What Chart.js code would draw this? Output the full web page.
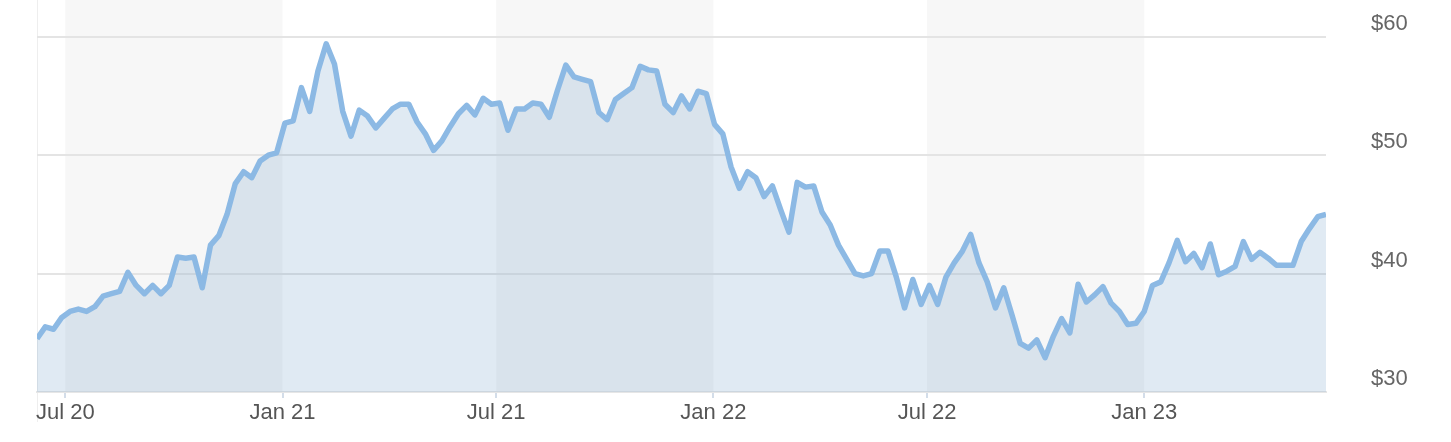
<!DOCTYPE html>
<html>
<head>
<meta charset="utf-8">
<script src="https://cdn.jsdelivr.net/npm/chart.js@4.4.1/dist/chart.umd.min.js"></script>
<style>
  html, body { margin: 0; padding: 0; background: #ffffff; }
  #wrap { position: relative; width: 1451px; height: 442px; }
</style>
</head>
<body>
<div id="wrap"><canvas id="c"></canvas></div>
<script>
// ---- data ----
const startDate = '2020-06-07';   // first weekly observation
const stepDays = 7;               // weekly series
const prices = [
  34.5, 35.5, 35.3, 36.3, 36.8, 37.0, 36.8, 37.2, 38.1, 38.3,
  38.5, 40.1, 39.0, 38.3, 39.0, 38.3, 39.0, 41.4, 41.3, 41.4,
  38.8, 42.4, 43.2, 45.0, 47.6, 48.6, 48.1, 49.5, 50.0, 50.2,
  52.7, 52.9, 55.7, 53.7, 57.1, 59.4, 57.7, 53.7, 51.6, 53.8,
  53.3, 52.3, 53.1, 53.9, 54.3, 54.3, 52.8, 51.8, 50.4, 51.2,
  52.4, 53.5, 54.2, 53.4, 54.8, 54.3, 54.4, 52.1, 53.9, 53.9,
  54.4, 54.3, 53.2, 55.5, 57.6, 56.6, 56.4, 56.2, 53.6, 53.0,
  54.7, 55.2, 55.7, 57.5, 57.2, 57.1, 54.3, 53.6, 55.0, 53.9,
  55.4, 55.2, 52.6, 51.8, 49.0, 47.2, 48.6, 48.1, 46.5, 47.4,
  45.4, 43.5, 47.7, 47.3, 47.4, 45.2, 44.1, 42.4, 41.2, 40.0,
  39.8, 40.0, 41.9, 41.9, 39.7, 37.1, 39.5, 37.4, 39.0, 37.4,
  39.7, 40.9, 41.9, 43.3, 40.9, 39.3, 37.1, 38.8, 36.5, 34.1,
  33.7, 34.4, 32.9, 34.7, 36.2, 35.0, 39.1, 37.6, 38.2, 38.9,
  37.5, 36.8, 35.7, 35.8, 36.8, 39.0, 39.3, 40.9, 42.8, 41.0,
  41.7, 40.5, 42.5, 39.9, 40.2, 40.6, 42.7, 41.2, 41.8, 41.3,
  40.7, 40.7, 40.7, 42.7, 43.8, 44.8, 45.0
];
const xTickDates  = ['2020-07-01', '2021-01-01', '2021-07-01', '2022-01-01', '2022-07-01', '2023-01-01'];
const xTickLabels = ['Jul 20', 'Jan 21', 'Jul 21', 'Jan 22', 'Jul 22', 'Jan 23'];
const bandStartDates = ['2020-07-01', '2021-07-01', '2022-07-01'];
const bandEndDates   = ['2021-01-01', '2022-01-01', '2023-01-01'];
const yTicks = [30, 40, 50, 60];
const yTickLabels = ['$30', '$40', '$50', '$60'];

// ---- helpers ----
const DAY = 86400000;
const t0 = Date.parse(startDate + 'T00:00:00Z');
const dayOf = d => (Date.parse(d + 'T00:00:00Z') - t0) / DAY;
const points = prices.map((v, i) => ({ x: i * stepDays, y: v }));
const xTickDays = xTickDates.map(dayOf);
const bands = bandStartDates.map((s, i) => [dayOf(s), dayOf(bandEndDates[i])]);
const FONT = "'Liberation Sans', Arial, sans-serif";

const bandPlugin = {
  id: 'bands',
  beforeDraw(chart) {
    const { ctx, chartArea, scales } = chart;
    const x = scales.x;
    ctx.save();
    ctx.fillStyle = '#f7f7f7';
    bands.forEach(([a, b]) => {
      const xa = x.getPixelForValue(a), xb = x.getPixelForValue(b);
      ctx.fillRect(xa, 0, xb - xa, chartArea.bottom);
    });
    // faint left rule
    ctx.strokeStyle = '#eeeeee';
    ctx.lineWidth = 1;
    ctx.beginPath();
    ctx.moveTo(chartArea.left + 0.5, 0);
    ctx.lineTo(chartArea.left + 0.5, 422);
    ctx.stroke();
    ctx.restore();
  }
};

new Chart(document.getElementById('c'), {
  type: 'line',
  data: {
    datasets: [{
      data: points,
      borderColor: '#8cb9e4',
      borderWidth: 5.5,
      borderJoinStyle: 'round',
      backgroundColor: 'rgba(100,150,195,0.2)',
      fill: 'start',
      pointRadius: 0,
      tension: 0
    }]
  },
  options: {
    responsive: true,
    maintainAspectRatio: false,
    animation: false,
    layout: { padding: { left: 37, top: 0, right: 0, bottom: 0 } },
    plugins: { legend: { display: false }, tooltip: { enabled: false } },
    scales: {
      x: {
        type: 'linear',
        min: 0,
        max: (prices.length - 1) * stepDays,
        afterBuildTicks(scale) { scale.ticks = xTickDays.map(v => ({ value: v })); },
        afterFit(scale) { scale.height = 50; scale.paddingLeft = 0; scale.paddingRight = 0; },
        grid: { drawOnChartArea: false, drawTicks: true, tickLength: 6, tickColor: '#d3dde9', lineWidth: 2 },
        border: { display: true, color: '#e6e6e6', width: 2 },
        ticks: {
          autoSkip: false,
          maxRotation: 0,
          padding: 2,
          color: '#555555',
          font: { family: FONT, size: 22 },
          callback(v) { const i = xTickDays.indexOf(v); return i >= 0 ? xTickLabels[i] : ''; }
        }
      },
      y: {
        position: 'right',
        min: 30,
        max: 63.1,
        afterBuildTicks(scale) { scale.ticks = yTicks.map(v => ({ value: v })); },
        afterFit(scale) { scale.width = 125; scale.paddingTop = 0; scale.paddingBottom = 0; },
        grid: { color: '#e4e4e4', lineWidth: 2, drawTicks: false },
        border: { display: false },
        ticks: {
          padding: 45,
          labelOffset: -13,
          color: '#666666',
          font: { family: FONT, size: 22 },
          callback(v) { const i = yTicks.indexOf(v); return i >= 0 ? yTickLabels[i] : ''; }
        }
      }
    }
  },
  plugins: [bandPlugin]
});
</script>
</body>
</html>
